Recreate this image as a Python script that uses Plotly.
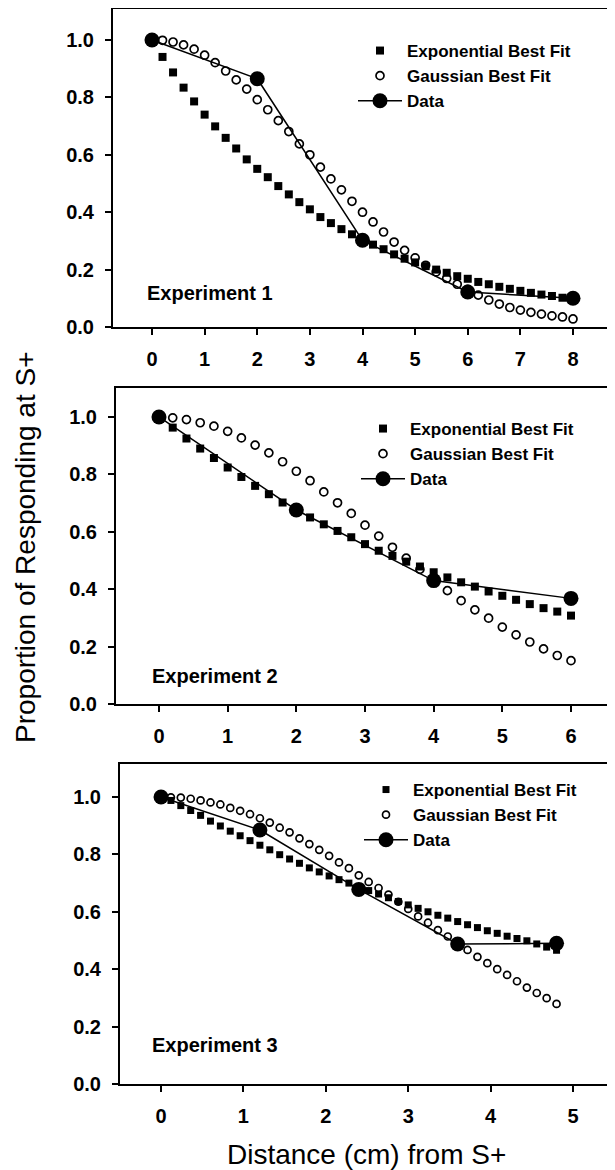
import plotly.graph_objects as go

# ---------------- data ----------------
# Experiment 1
e1_fit_x = [0.0, 0.2, 0.4, 0.6, 0.8, 1.0, 1.2, 1.4, 1.6, 1.8, 2.0, 2.2, 2.4, 2.6, 2.8, 3.0,
            3.2, 3.4, 3.6, 3.8, 4.0, 4.2, 4.4, 4.6, 4.8, 5.0, 5.2, 5.4, 5.6, 5.8, 6.0, 6.2,
            6.4, 6.6, 6.8, 7.0, 7.2, 7.4, 7.6, 7.8, 8.0]
e1_exp = [1.0, 0.941, 0.887, 0.834, 0.786, 0.740, 0.699, 0.659, 0.622, 0.584, 0.551, 0.522,
          0.491, 0.462, 0.435, 0.410, 0.383, 0.362, 0.341, 0.323, 0.304, 0.287, 0.271, 0.253,
          0.238, 0.225, 0.212, 0.200, 0.189, 0.177, 0.168, 0.157, 0.149, 0.140, 0.133, 0.126,
          0.119, 0.113, 0.108, 0.102, 0.096]
e1_gauss = [1.0, 0.999, 0.993, 0.983, 0.968, 0.947, 0.921, 0.892, 0.861, 0.829, 0.792, 0.757,
            0.719, 0.681, 0.638, 0.600, 0.557, 0.516, 0.478, 0.438, 0.400, 0.366, 0.331, 0.296,
            0.267, 0.241, 0.215, 0.192, 0.169, 0.149, 0.131, 0.111, 0.094, 0.080, 0.068, 0.059,
            0.051, 0.045, 0.039, 0.035, 0.028]
e1_data_x = [0, 2, 4, 6, 8]
e1_data_y = [1.0, 0.865, 0.302, 0.122, 0.100]

# Experiment 2
e2_fit_x = [0.0, 0.2, 0.4, 0.6, 0.8, 1.0, 1.2, 1.4, 1.6, 1.8, 2.0, 2.2, 2.4, 2.6, 2.8, 3.0,
            3.2, 3.4, 3.6, 3.8, 4.0, 4.2, 4.4, 4.6, 4.8, 5.0, 5.2, 5.4, 5.6, 5.8, 6.0]
e2_exp = [1.0, 0.963, 0.925, 0.890, 0.857, 0.824, 0.791, 0.760, 0.731, 0.702, 0.676, 0.650,
          0.626, 0.603, 0.581, 0.557, 0.534, 0.516, 0.496, 0.479, 0.459, 0.441, 0.424, 0.409,
          0.392, 0.377, 0.363, 0.348, 0.334, 0.322, 0.308]
e2_gauss = [1.0, 0.997, 0.991, 0.980, 0.968, 0.950, 0.927, 0.902, 0.875, 0.844, 0.811, 0.778,
            0.739, 0.701, 0.664, 0.623, 0.585, 0.546, 0.508, 0.469, 0.435, 0.395, 0.360, 0.328,
            0.299, 0.268, 0.241, 0.216, 0.192, 0.169, 0.151]
e2_data_x = [0, 2, 4, 6]
e2_data_y = [1.0, 0.676, 0.430, 0.368]

# Experiment 3
e3_fit_x = [0.0, 0.12, 0.24, 0.36, 0.48, 0.60, 0.72, 0.84, 0.96, 1.08, 1.20, 1.32, 1.44, 1.56,
            1.68, 1.80, 1.92, 2.04, 2.16, 2.28, 2.40, 2.52, 2.64, 2.76, 2.88, 3.00, 3.12, 3.24,
            3.36, 3.48, 3.60, 3.72, 3.84, 3.96, 4.08, 4.20, 4.32, 4.44, 4.56, 4.68, 4.80]
e3_exp = [1.0, 0.988, 0.970, 0.953, 0.936, 0.916, 0.899, 0.881, 0.865, 0.848, 0.832, 0.816,
          0.799, 0.784, 0.769, 0.753, 0.739, 0.725, 0.712, 0.700, 0.686, 0.674, 0.662, 0.649,
          0.636, 0.624, 0.612, 0.600, 0.588, 0.578, 0.566, 0.555, 0.545, 0.534, 0.525, 0.515,
          0.507, 0.499, 0.488, 0.477, 0.466]
e3_gauss = [1.0, 0.999, 0.998, 0.994, 0.988, 0.981, 0.974, 0.962, 0.952, 0.940, 0.926, 0.911,
            0.893, 0.877, 0.856, 0.836, 0.816, 0.795, 0.772, 0.752, 0.727, 0.704, 0.683, 0.660,
            0.635, 0.610, 0.584, 0.562, 0.536, 0.514, 0.489, 0.467, 0.443, 0.421, 0.400, 0.380,
            0.358, 0.336, 0.317, 0.299, 0.279]
e3_data_x = [0, 1.2, 2.4, 3.6, 4.8]
e3_data_y = [1.0, 0.885, 0.678, 0.488, 0.490]

y_ticks = [0.0, 0.2, 0.4, 0.6, 0.8, 1.0]
y_tick_labels = ["0.0", "0.2", "0.4", "0.6", "0.8", "1.0"]
x_ticks = [[0, 1, 2, 3, 4, 5, 6, 7, 8], [0, 1, 2, 3, 4, 5, 6], [0, 1, 2, 3, 4, 5]]
panel_labels = ["Experiment 1", "Experiment 2", "Experiment 3"]
legend_names = ["Exponential Best Fit", "Gaussian Best Fit", "Data"]

# ---------------- figure ----------------
# the page body adds an 8px margin, so the figure is 8px smaller than the window
W, H = 607, 1162
FONT = "Liberation Sans, Arial, sans-serif"

panels = [
    dict(fx=e1_fit_x, ex=e1_exp, gs=e1_gauss, dx=e1_data_x, dy=e1_data_y,
         box=(105, 601, 1, 319), xr=[-0.741, 8.684], yr=[0, 1.108], msize=8,
         leg=(345, 25), lab=(137, 285)),
    dict(fx=e2_fit_x, ex=e2_exp, gs=e2_gauss, dx=e2_data_x, dy=e2_data_y,
         box=(108, 604, 380, 696), xr=[-0.626, 6.597], yr=[0, 1.101], msize=8,
         leg=(348, 403), lab=(142, 668)),
    dict(fx=e3_fit_x, ex=e3_exp, gs=e3_gauss, dx=e3_data_x, dy=e3_data_y,
         box=(112, 604, 756, 1076), xr=[-0.498, 5.473], yr=[0, 1.115], msize=7,
         leg=(351, 764), lab=(142, 1037)),
]

fig = go.Figure()
layout = dict(
    width=W, height=H,
    margin=dict(l=0, r=0, t=0, b=0, autoexpand=False),
    paper_bgcolor="white", plot_bgcolor="white",
    font=dict(family=FONT, color="black"),
    showlegend=True,
)
annotations = []

for i, p in enumerate(panels):
    n = "" if i == 0 else str(i + 1)
    xa, ya = "x" + n, "y" + n
    lg = "legend" + n
    fig.add_trace(go.Scatter(x=p["fx"], y=p["ex"], mode="markers", name=legend_names[0],
                             marker=dict(symbol="square", size=p["msize"], color="black"),
                             xaxis=xa, yaxis=ya, legend=lg))
    fig.add_trace(go.Scatter(x=p["fx"], y=p["gs"], mode="markers", name=legend_names[1],
                             marker=dict(symbol="circle-open", size=p["msize"], color="black",
                                         line=dict(width=1.7, color="black")),
                             xaxis=xa, yaxis=ya, legend=lg))
    fig.add_trace(go.Scatter(x=p["dx"], y=p["dy"], mode="lines+markers", name=legend_names[2],
                             line=dict(color="black", width=1.5),
                             marker=dict(symbol="circle", size=15, color="black"),
                             xaxis=xa, yaxis=ya, legend=lg))
    x0, x1, y0, y1 = p["box"]
    axcommon = dict(showline=True, linecolor="black", linewidth=2, mirror=True,
                    ticks="outside", ticklen=6, tickwidth=1.5, tickcolor="black",
                    showgrid=False, zeroline=False,
                    tickfont=dict(family=FONT, size=20, color="black", weight="bold"))
    layout["xaxis" + n] = dict(axcommon, domain=[x0 / W, x1 / W], range=p["xr"],
                               anchor=ya, tickvals=x_ticks[i], ticklabelstandoff=7)
    layout["yaxis" + n] = dict(axcommon, domain=[1 - y1 / H, 1 - y0 / H], range=p["yr"],
                               anchor=xa, tickvals=y_ticks, ticktext=y_tick_labels,
                               ticklabelstandoff=7)
    lx, ly = p["leg"]
    layout[lg] = dict(x=lx / W, y=1 - ly / H, xanchor="left", yanchor="top",
                      bgcolor="rgba(0,0,0,0)", borderwidth=0, itemwidth=44,
                      tracegroupgap=0,
                      font=dict(family=FONT, size=17, color="black", weight="bold"))
    tx, ty = p["lab"]
    annotations.append(dict(text=panel_labels[i], xref="paper", yref="paper",
                            x=tx / W, y=1 - ty / H,
                            xanchor="left", yanchor="middle", showarrow=False,
                            font=dict(family=FONT, size=20, color="black", weight="bold")))

annotations.append(dict(text="Proportion of Responding at S+", xref="paper", yref="paper",
                        x=17 / W, y=1 - 540 / H, textangle=-90, showarrow=False,
                        xanchor="center", yanchor="middle",
                        font=dict(family=FONT, size=28, color="black")))
annotations.append(dict(text="Distance (cm) from S+", xref="paper", yref="paper",
                        x=358 / W, y=1 - 1146 / H, showarrow=False,
                        xanchor="center", yanchor="middle",
                        font=dict(family=FONT, size=28, color="black")))
layout["annotations"] = annotations
fig.update_layout(**layout)
fig.write_html("out.html")
